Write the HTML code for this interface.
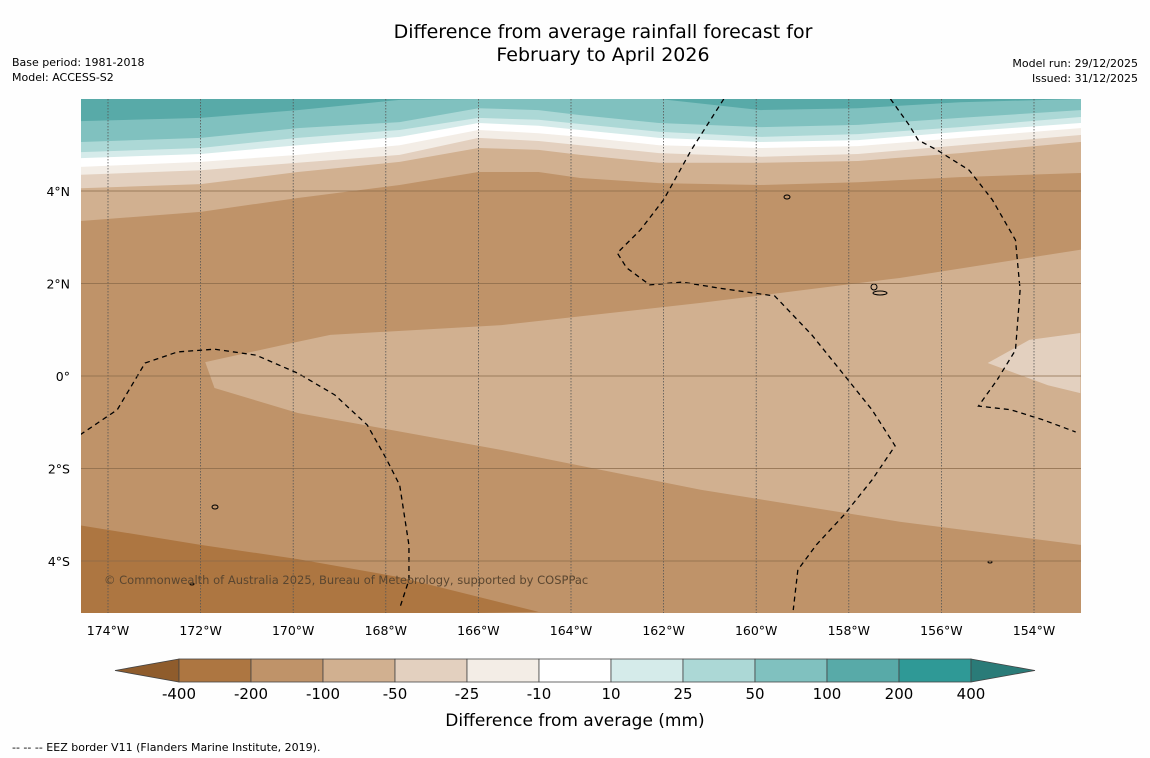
<!DOCTYPE html>
<html><head><meta charset="utf-8"><style>
body{margin:0;background:#fff;width:1150px;height:758px;overflow:hidden;font-family:"DejaVu Sans","Liberation Sans",sans-serif}
svg{display:block}
</style></head><body>
<svg id="c" width="1150" height="758" viewBox="0 0 1150 758">
<rect width="1150" height="758" fill="#fefefe"/>
<text x="603" y="38" text-anchor="middle" font-size="19" fill="#000">Difference from average rainfall forecast for</text>
<text x="603" y="61" text-anchor="middle" font-size="19" fill="#000">February to April 2026</text>
<text x="12" y="66" font-size="11">Base period: 1981-2018</text>
<text x="12" y="81" font-size="11">Model: ACCESS-S2</text>
<text x="1138" y="67" font-size="11" text-anchor="end">Model run: 29/12/2025</text>
<text x="1138" y="82" font-size="11" text-anchor="end">Issued: 31/12/2025</text>
<defs><clipPath id="mc"><rect x="81" y="99" width="1000" height="514"/></clipPath></defs>
<g id="map" clip-path="url(#mc)"></g>
<g id="grid"></g>
<g id="axes"></g>
<text x="104" y="584" font-size="11.5" fill="#5a4630">© Commonwealth of Australia 2025, Bureau of Meteorology, supported by COSPPac</text>
<g id="cbar"></g>
<text x="575" y="726" text-anchor="middle" font-size="17">Difference from average (mm)</text>
<text x="12" y="751" font-size="11">--  --  -- EEZ border V11 (Flanders Marine Institute, 2019).</text>
</svg>
<script>
const levels=[-400,-200,-100,-50,-25,-10,10,25,50,100,200,400];
const bandColors=["#ad7641","#bf9369","#d1b090","#e3d0bf","#f3ede6","#ffffff","#d5ebea","#acd8d6","#80c1bf","#58aaa8","#2f9996"];
const lowExtColor="#8f5c2c";
const highExtColor="#2a7b78";
const lonTicks=[-174,-172,-170,-168,-166,-164,-162,-160,-158,-156,-154];
const latTicks=[4,2,0,-2,-4];
const sampleLon=[-174.6,-172.0,-169.9,-167.7,-166.0,-164.7,-163.8,-162.1,-159.9,-157.8,-155.6,-153.0];
const b2=[5.51,5.58,5.75,5.97,5.99,5.99,5.99,5.99,5.75,5.79,5.92,5.99];
const b3=[5.06,5.15,5.36,5.49,5.79,5.75,5.64,5.47,5.38,5.43,5.58,5.75];
const b4=[4.84,4.93,5.15,5.32,5.58,5.54,5.45,5.28,5.17,5.23,5.38,5.60];
const b5=[4.71,4.80,4.99,5.17,5.47,5.41,5.32,5.15,5.06,5.10,5.28,5.47];
const b6=[4.52,4.63,4.78,4.99,5.32,5.25,5.17,4.99,4.93,4.97,5.15,5.36];
const b7=[4.35,4.45,4.61,4.78,5.15,5.08,4.99,4.82,4.74,4.80,4.99,5.21];
const b8=[4.06,4.15,4.41,4.63,4.93,4.89,4.78,4.61,4.61,4.65,4.82,5.06];
const b9=[3.35,3.55,3.85,4.13,4.41,4.41,4.28,4.17,4.13,4.19,4.30,4.39];
const topBounds=[b2,b3,b4,b5,b6,b7,b8,b9];
const topBandIdx=[9,8,7,6,5,4,3,2];
const midTopLon=[-171.9,-169.9,-169.2,-165.5,-161.2,-156.9,-153.0];
const midTopLat=[0.3,0.74,0.89,1.1,1.58,2.12,2.73];
const midBotLon=[-153.0,-156.9,-161.2,-165.5,-169.9,-171.7,-171.9];
const midBotLat=[-3.65,-3.15,-2.46,-1.6,-0.8,-0.26,0.3];
const blobLon=[-155.0,-154.1,-153.0,-153.0,-153.7];
const blobLat=[0.28,0.78,0.93,-0.37,-0.2];
const lowLon=[-174.6,-172.0,-169.9,-167.7,-164.7];
const lowLat=[-3.23,-3.65,-3.96,-4.35,-5.1];
const eezA=[[-174.6,-1.27],[-173.8,-0.73],[-173.2,0.28],[-172.5,0.52],[-171.7,0.58],[-170.8,0.45],[-169.9,0.06],[-169.1,-0.41],[-168.4,-1.06],[-168.0,-1.77],[-167.7,-2.36],[-167.5,-3.66],[-167.5,-4.41],[-167.7,-5.02]];
const eezB=[[-160.7,5.99],[-161.4,4.89],[-162.0,3.81],[-162.5,3.16],[-163.0,2.66],[-162.8,2.34],[-162.3,1.97],[-161.6,2.03],[-160.8,1.9],[-159.6,1.73],[-158.8,0.89],[-158.1,0.02],[-157.5,-0.73],[-157.0,-1.51],[-157.5,-2.25],[-158.1,-3.0],[-158.7,-3.65],[-159.1,-4.19],[-159.2,-5.06]];
const eezC=[[-157.1,5.99],[-156.7,5.43],[-156.5,5.1],[-156.1,4.89],[-155.4,4.45],[-154.9,3.81],[-154.4,2.94],[-154.3,1.86],[-154.4,0.56],[-154.8,-0.09],[-155.2,-0.65],[-154.5,-0.73],[-153.8,-0.95],[-153.1,-1.21]];
const NS="http://www.w3.org/2000/svg";
const X=lon=>108+(lon+174)*46.3;
const Y=lat=>376-lat*46.25;
function mk(tag,attrs,parent){const e=document.createElementNS(NS,tag);for(const k in attrs)e.setAttribute(k,attrs[k]);parent.appendChild(e);return e;}
const map=document.getElementById('map');
let r=mk('rect',{x:81,y:99,width:1000,height:514,fill:bandColors[1]},map);


const pts=a=>sampleLon.map((l,i)=>X(l)+','+Y(a[i])).join(' ');
for(let j=topBounds.length-1;j>=0;j--){
  const arr=topBounds[j];
  const p=mk('polygon',{points:'70,'+Y(arr[0])+' '+pts(arr)+' 1090,'+Y(arr[arr.length-1])+' 1090,90 70,90',fill:bandColors[topBandIdx[j]]},map);
  
  
}
const midPts=midTopLon.map((l,i)=>X(l)+','+Y(midTopLat[i])).concat(['1090,'+Y(2.73),'1090,'+Y(-3.65)]).concat(midBotLon.map((l,i)=>X(l)+','+Y(midBotLat[i]))).join(' ');
let pm=mk('polygon',{points:midPts,fill:bandColors[2]},map);


let pb=mk('polygon',{points:blobLon.map((l,i)=>X(l)+','+Y(blobLat[i])).join(' '),fill:bandColors[3]},map);


let pl=mk('polygon',{points:'70,'+Y(lowLat[0])+' '+lowLon.map((l,i)=>X(l)+','+Y(lowLat[i])).join(' ')+' 70,620',fill:bandColors[0]},map);


[eezA,eezB,eezC].forEach(a=>{
  const l=mk('polyline',{points:a.map(q=>X(q[0])+','+Y(q[1])).join(' '),fill:'none',stroke:'#000','stroke-width':1.3,'stroke-dasharray':'5,4'},map);
  
  
});
[[787,197,3,2],[874,287,3,3],[880,293,7,2],[215,507,3,2],[192,584,2,1],[990,562,2,1]].forEach(q=>{
  const e=mk('ellipse',{cx:q[0],cy:q[1],rx:q[2],ry:q[3],fill:'none',stroke:'#000','stroke-width':1},map);
  
  
});
const grid=document.getElementById('grid'),axes=document.getElementById('axes');
lonTicks.forEach(l=>{
  const g=mk('line',{x1:X(l),x2:X(l),y1:99,y2:613,stroke:'#555','stroke-width':0.8,'stroke-dasharray':'1.5,1.5'},grid);
  
  
  const t=mk('text',{x:X(l),y:635,'text-anchor':'middle','font-size':12.5},axes);
  t.textContent=Math.abs(l)+'°W';
  
  
});
latTicks.forEach(l=>{
  const g=mk('line',{x1:81,x2:1081,y1:Y(l),y2:Y(l),stroke:'#8a6a4a','stroke-width':0.8},grid);
  
  
  const t=mk('text',{x:70,y:Y(l)+5,'text-anchor':'end','font-size':12.5},axes);
  t.textContent=l===0?'0°':Math.abs(l)+'°'+(l>0?'N':'S');
  
  
});
const cb=document.getElementById('cbar');
const cx0=179,cw=72,cy=659,ch=23;
let la=mk('polygon',{points:`${cx0},${cy} 115,${cy+ch/2} ${cx0},${cy+ch}`,fill:lowExtColor,stroke:'#444','stroke-width':0.8},cb);


bandColors.forEach((c,i)=>{
  const b=mk('rect',{x:cx0+i*cw,y:cy,width:cw,height:ch,fill:c,stroke:'#444','stroke-width':0.8},cb);
  
  
});
const endX=cx0+bandColors.length*cw;
let ra=mk('polygon',{points:`${endX},${cy} 1035,${cy+ch/2} ${endX},${cy+ch}`,fill:highExtColor,stroke:'#444','stroke-width':0.8},cb);


levels.forEach((v,i)=>{
  const t=mk('text',{x:cx0+i*cw,y:699,'text-anchor':'middle','font-size':15},cb);
  t.textContent=v;
  
  
});
</script>
</body></html>
